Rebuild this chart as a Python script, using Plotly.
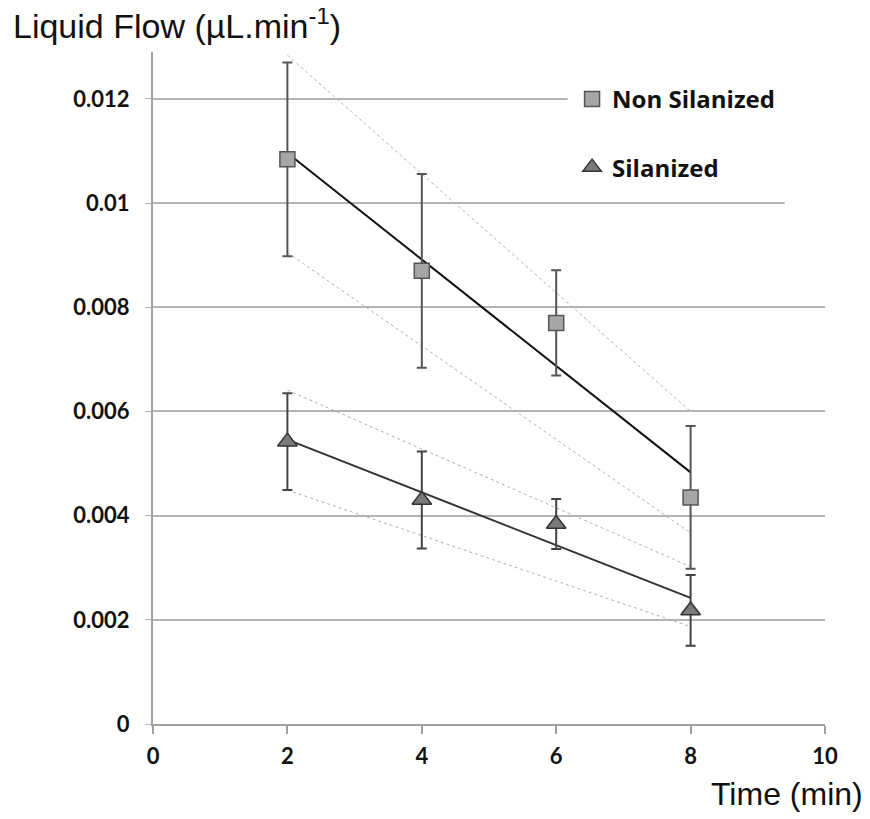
import plotly.graph_objects as go

# data
time = [2, 4, 6, 8]
non_sil = [0.01084, 0.00870, 0.00770, 0.00435]
non_sil_err = [0.00186, 0.00186, 0.00101, 0.00137]
sil = [0.00542, 0.00430, 0.00384, 0.00218]
sil_err = [0.00093, 0.00093, 0.00048, 0.00068]

trend_x = [2, 8]
non_sil_fit = [0.01096, 0.00483]
non_sil_hi = [0.01284, 0.00600]
non_sil_lo = [0.00905, 0.00367]
sil_fit = [0.00546, 0.00242]
sil_hi = [0.00641, 0.00302]
sil_lo = [0.00449, 0.00187]

y_ticks = [0, 0.002, 0.004, 0.006, 0.008, 0.01, 0.012]
y_labels = ["0", "0.002", "0.004", "0.006", "0.008", "0.01", "0.012"]
x_ticks = [0, 2, 4, 6, 8, 10]

fig = go.Figure()

# confidence bounds (thin dotted)
for ys in (non_sil_hi, non_sil_lo, sil_hi, sil_lo):
    fig.add_trace(go.Scatter(x=trend_x, y=ys, mode="lines", showlegend=False,
                             line=dict(color="#b0b0b0", width=1, dash="dot"),
                             hoverinfo="skip"))

# fitted lines
fig.add_trace(go.Scatter(x=trend_x, y=non_sil_fit, mode="lines", showlegend=False,
                         line=dict(color="#111111", width=2), hoverinfo="skip"))
fig.add_trace(go.Scatter(x=trend_x, y=sil_fit, mode="lines", showlegend=False,
                         line=dict(color="#333333", width=2), hoverinfo="skip"))

fig.add_trace(go.Scatter(
    x=time, y=non_sil, mode="markers", name="Non Silanized", legendgroup="a",
    error_y=dict(type="data", array=non_sil_err, color="#555555", thickness=2, width=5),
    marker=dict(symbol="square", size=15, color="#a6a6a6",
                line=dict(color="#555555", width=1.5)),
))
fig.add_trace(go.Scatter(
    x=time, y=sil, mode="markers", name="Silanized", legendgroup="b",
    error_y=dict(type="data", array=sil_err, color="#444444", thickness=2, width=5),
    marker=dict(symbol="triangle-up", size=17, color="#7a7a7a",
                line=dict(color="#333333", width=1.5)),
))

# white blocks behind legend that cut the gridlines
fig.add_shape(type="rect", xref="x", yref="y", x0=6.17, x1=10.2, y0=0.0113, y1=0.0127,
              fillcolor="white", line_width=0, layer="between")
fig.add_shape(type="rect", xref="x", yref="y", x0=9.4, x1=10.2, y0=0.0097, y1=0.0113,
              fillcolor="white", line_width=0, layer="between")

fig.add_annotation(text="Liquid Flow (µL.min<sup>-1</sup>)", xref="paper", yref="paper",
                   x=-0.212, y=1.0, xanchor="left", yanchor="bottom", yshift=5,
                   showarrow=False, font=dict(family="Liberation Sans", size=34, color="#111"))
fig.add_annotation(text="Time (min)", xref="paper", yref="paper",
                   x=1.0595, y=0, xanchor="right", yanchor="top", yshift=-50,
                   showarrow=False, font=dict(family="Liberation Sans", size=32, color="#111"))

# the page body adds an 8px offset, margins are set to compensate
fig.update_layout(
    width=870, height=819,
    margin=dict(l=145, r=53, t=44, b=103),
    paper_bgcolor="white", plot_bgcolor="white",
    font=dict(family="Lato", color="#111"),
    legend=dict(x=0.6236, y=0.963, xanchor="left", yanchor="top",
                font=dict(family="Open Sans", size=24, weight="bold", color="#111"),
                tracegroupgap=34, bgcolor="rgba(0,0,0,0)", itemwidth=30),
    xaxis=dict(range=[0, 10], tickvals=x_ticks, showgrid=False, zeroline=False,
               showline=True, linecolor="#a0a0a0", linewidth=2,
               ticks="outside", ticklen=8, tickcolor="#a0a0a0", tickwidth=1.5,
               ticklabelstandoff=4,
               tickfont=dict(family="Lato", size=22, weight="bold", color="#111")),
    yaxis=dict(range=[0, 0.0129], tickvals=y_ticks, ticktext=y_labels,
               showgrid=True, gridcolor="#b4b4b4", gridwidth=1.5, zeroline=False,
               showline=True, linecolor="#a0a0a0", linewidth=2,
               ticks="outside", ticklen=6, tickcolor="#b4b4b4",
               ticklabelstandoff=11,
               tickfont=dict(family="Lato", size=22, weight="bold", color="#111")),
)

fig.write_html("out.html")
